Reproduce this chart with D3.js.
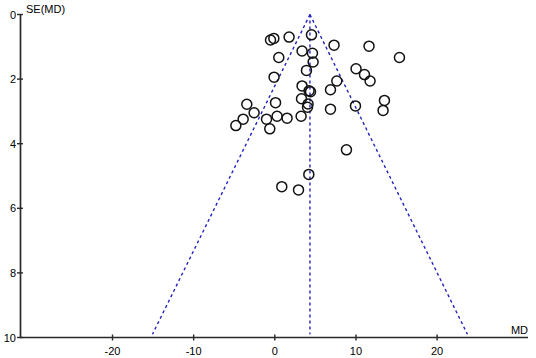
<!DOCTYPE html>
<html>
<head>
<meta charset="utf-8">
<script src="https://cdn.jsdelivr.net/npm/d3@7"></script>
<style>
  body { margin: 0; background: #fff; }
  text { font-family: "Liberation Sans", Arial, sans-serif; }
</style>
</head>
<body>
<div class="funnel"></div>
<script>
// study effects (mean difference) and their standard errors
const md = [-0.53, -0.12, 1.76, 4.52, 7.30, 11.61, 15.36, 0.49, 3.36, 4.64,
            4.72, 3.90, -0.09, 10.01, 11.05, 11.74, 7.64, 3.36, 4.22, 4.40,
            6.86, 13.51, 13.34, 0.09, -3.45, 3.29, 4.10, 4.03, 6.86, 9.94,
            -2.55, -3.90, -4.80, -1.02, 0.28, 1.51, 3.24, -0.62, 8.83, 4.19,
            0.86, 2.92];
const se = [0.79, 0.74, 0.70, 0.63, 0.95, 0.98, 1.33, 1.33, 1.13, 1.20,
            1.47, 1.73, 1.94, 1.68, 1.86, 2.06, 2.06, 2.21, 2.36, 2.39,
            2.33, 2.66, 2.97, 2.73, 2.78, 2.61, 2.77, 2.87, 2.93, 2.83,
            3.04, 3.24, 3.44, 3.24, 3.15, 3.21, 3.15, 3.54, 4.19, 4.95,
            5.33, 5.43];
const pooled = 4.33;
const seMax = 9.9;
const xTicks = [-20, -10, 0, 10, 20];
const yTicks = [0, 2, 4, 6, 8, 10];

const width = 536, height = 358;
const svg = d3.select(".funnel").append("svg")
    .attr("width", width)
    .attr("height", height);

const x = d3.scaleLinear().domain([-31.4, 31.2]).range([20, 528]);
const y = d3.scaleLinear().domain([0, 10]).range([14.5, 337.5]);

const axisColor = "#2a2a2a";

// funnel lines
const blue = "#2323c0";
const funnel = [
    [[pooled, 0], [pooled - 1.96 * seMax, seMax]],
    [[pooled, 0], [pooled + 1.96 * seMax, seMax]],
    [[pooled, 0], [pooled, seMax]]
];
svg.selectAll(".fl")
    .data(funnel)
    .enter()
    .append("line")
    .attr("x1", d => x(d[0][0]))
    .attr("y1", d => y(d[0][1]))
    .attr("x2", d => x(d[1][0]))
    .attr("y2", d => y(d[1][1]))
    .attr("stroke", blue)
    .attr("stroke-width", 1.4)
    .attr("stroke-dasharray", "3,3");

// y axis
svg.append("line")
    .attr("x1", 20.5).attr("x2", 20.5)
    .attr("y1", y(0)).attr("y2", y(10))
    .attr("stroke", axisColor).attr("stroke-width", 1.7);
svg.selectAll(".yt")
    .data(yTicks)
    .enter()
    .append("line")
    .attr("x1", 17).attr("x2", 23)
    .attr("y1", d => y(d)).attr("y2", d => y(d))
    .attr("stroke", axisColor).attr("stroke-width", 1.4);
svg.selectAll(".yl")
    .data(yTicks)
    .enter()
    .append("text")
    .text(d => d)
    .attr("x", 16)
    .attr("y", d => y(d) + 4)
    .attr("text-anchor", "end")
    .attr("font-size", "11px")
    .attr("fill", "#000");
svg.append("text")
    .text("SE(MD)")
    .attr("x", 26)
    .attr("y", 12.5)
    .attr("font-size", "11px");

// x axis
svg.append("line")
    .attr("x1", 20).attr("x2", 528)
    .attr("y1", y(10)).attr("y2", y(10))
    .attr("stroke", axisColor).attr("stroke-width", 1.7);
svg.selectAll(".xt")
    .data(xTicks)
    .enter()
    .append("line")
    .attr("x1", d => x(d)).attr("x2", d => x(d))
    .attr("y1", y(10) - 3).attr("y2", y(10) + 3)
    .attr("stroke", axisColor).attr("stroke-width", 1.4);
svg.selectAll(".xl")
    .data(xTicks)
    .enter()
    .append("text")
    .text(d => d)
    .attr("x", d => x(d))
    .attr("y", 355)
    .attr("text-anchor", "middle")
    .attr("font-size", "11px");
svg.append("text")
    .text("MD")
    .attr("x", 528)
    .attr("y", 334)
    .attr("text-anchor", "end")
    .attr("font-size", "11px");

// studies
svg.selectAll(".pt")
    .data(md)
    .enter()
    .append("circle")
    .attr("cx", d => x(d))
    .attr("cy", (d, i) => y(se[i]))
    .attr("r", 5)
    .attr("fill", "none")
    .attr("stroke", "#111")
    .attr("stroke-width", 1.5);
</script>
</body>
</html>
